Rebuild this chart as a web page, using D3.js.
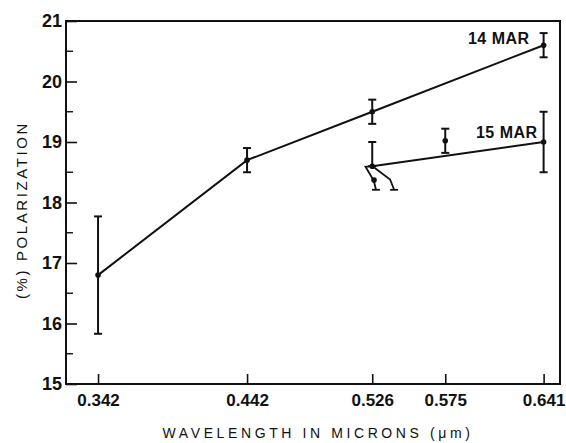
<!DOCTYPE html>
<html>
<head>
<meta charset="utf-8">
<script src="https://cdn.jsdelivr.net/npm/d3@7"></script>
<style>
  body { margin: 0; background: #fff; }
  text { font-family: "Liberation Sans", Arial, sans-serif; fill: #111; }
</style>
</head>
<body>
<script>
// values
var xTicks = [0.342, 0.442, 0.526, 0.575, 0.641];
var yTicks = [15, 16, 17, 18, 19, 20, 21];

// 14 MAR series
var mar14Wave = [0.342, 0.442, 0.526, 0.641];
var mar14Pol = [16.8, 18.7, 19.5, 20.6];
var mar14Err = [0.97, 0.2, 0.2, 0.2];

// 15 MAR series (line joins 0.526 and 0.641, 0.575 stands alone)
var mar15Wave = [0.526, 0.641];
var mar15Pol = [18.6, 19.0];
var mar15ErrUp = [0.4, 0.5];
var mar15ErrDown = [0, 0.5];
var mar15Extra = { wave: 0.575, pol: 19.02, err: 0.2 };

// little marks hanging under the 0.526 point of 15 MAR
var squiggleA = [[0.5262, 18.6], [0.5215, 18.59], [0.5271, 18.36], [0.5285, 18.21]];
var squiggleB = [[0.5262, 18.6], [0.538, 18.38], [0.5407, 18.21]];

var svgWidth = 566;
var svgHeight = 443;
var margin = { top: 21, right: 6, bottom: 59, left: 66 };

var width = svgWidth - margin.left - margin.right;
var height = svgHeight - margin.top - margin.bottom;

var svg = d3.select("body")
  .append("svg")
  .attr("width", svgWidth)
  .attr("height", svgHeight);

var chartGroup = svg.append("g")
  .attr("transform", `translate(${margin.left}, ${margin.top})`);

var xScale = d3.scaleLinear().domain([0.3205, 0.652]).range([0, width]);
var yScale = d3.scaleLinear().domain([15, 21]).range([height, 0]);

// frame
chartGroup.append("rect")
  .attr("width", width)
  .attr("height", height)
  .attr("fill", "none")
  .attr("stroke", "#111")
  .attr("stroke-width", 2);

// x axis, ticks pointing up into the plot
var xAxis = d3.axisBottom(xScale)
  .tickValues(xTicks)
  .tickSize(-10)
  .tickPadding(15)
  .tickFormat(d3.format(".3f"));

var xg = chartGroup.append("g")
  .attr("transform", `translate(0,${height})`)
  .call(xAxis);
xg.select(".domain").remove();
xg.selectAll("line").attr("stroke", "#111").attr("stroke-width", 1.6);
xg.selectAll("text")
  .attr("font-size", "17px")
  .attr("font-weight", "bold")
  .attr("dy", "0.4em");

// y axis, major and half-unit ticks pointing right
var yAxis = d3.axisLeft(yScale)
  .tickValues(yTicks)
  .tickSize(-11)
  .tickPadding(4)
  .tickFormat(d3.format("d"));

var yg = chartGroup.append("g").call(yAxis);
yg.select(".domain").remove();
yg.selectAll("line").attr("stroke", "#111").attr("stroke-width", 1.6);
yg.selectAll("text")
  .attr("font-size", "18px")
  .attr("font-weight", "bold");

var minor = d3.range(15.5, 21, 1);
chartGroup.selectAll(".minor")
  .data(minor)
  .enter()
  .append("line")
  .attr("class", "minor")
  .attr("x1", 0)
  .attr("x2", 7)
  .attr("y1", function (d) { return yScale(d); })
  .attr("y2", function (d) { return yScale(d); })
  .attr("stroke", "#111")
  .attr("stroke-width", 1.4);

var line = d3.line()
  .x(function (d) { return xScale(d[0]); })
  .y(function (d) { return yScale(d[1]); });

function drawErr(wave, lo, hi) {
  var x = xScale(wave);
  chartGroup.append("line")
    .attr("x1", x).attr("x2", x)
    .attr("y1", yScale(lo)).attr("y2", yScale(hi))
    .attr("stroke", "#111").attr("stroke-width", 2);
  [lo, hi].forEach(function (v) {
    chartGroup.append("line")
      .attr("x1", x - 4).attr("x2", x + 4)
      .attr("y1", yScale(v)).attr("y2", yScale(v))
      .attr("stroke", "#111").attr("stroke-width", 2);
  });
}

function drawDot(wave, pol) {
  chartGroup.append("circle")
    .attr("cx", xScale(wave))
    .attr("cy", yScale(pol))
    .attr("r", 2.8)
    .attr("fill", "#111");
}

// 14 MAR
var m14 = mar14Wave.map(function (w, i) { return [w, mar14Pol[i]]; });
chartGroup.append("path")
  .attr("d", line(m14))
  .attr("fill", "none")
  .attr("stroke", "#111")
  .attr("stroke-width", 2);
mar14Wave.forEach(function (w, i) {
  drawErr(w, mar14Pol[i] - mar14Err[i], mar14Pol[i] + mar14Err[i]);
  drawDot(w, mar14Pol[i]);
});

// 15 MAR
var m15 = mar15Wave.map(function (w, i) { return [w, mar15Pol[i]]; });
chartGroup.append("path")
  .attr("d", line(m15))
  .attr("fill", "none")
  .attr("stroke", "#111")
  .attr("stroke-width", 2);
mar15Wave.forEach(function (w, i) {
  drawErr(w, mar15Pol[i] - mar15ErrDown[i], mar15Pol[i] + mar15ErrUp[i]);
  drawDot(w, mar15Pol[i]);
});
drawErr(mar15Extra.wave, mar15Extra.pol - mar15Extra.err, mar15Extra.pol + mar15Extra.err);
drawDot(mar15Extra.wave, mar15Extra.pol);

[squiggleA, squiggleB].forEach(function (s) {
  chartGroup.append("path")
    .attr("d", line(s))
    .attr("fill", "none")
    .attr("stroke", "#111")
    .attr("stroke-width", 1.8);
  var end = s[s.length - 1];
  chartGroup.append("line")
    .attr("x1", xScale(end[0]) - 4).attr("x2", xScale(end[0]) + 4)
    .attr("y1", yScale(end[1])).attr("y2", yScale(end[1]))
    .attr("stroke", "#111").attr("stroke-width", 1.8);
});
drawDot(0.5272, 18.37);

// series labels
chartGroup.append("text")
  .attr("x", xScale(0.641) - 14)
  .attr("y", yScale(20.6) - 1)
  .attr("text-anchor", "end")
  .attr("font-size", "16px")
  .attr("font-weight", "bold")
  .attr("letter-spacing", "0.5px")
  .text("14 MAR");

chartGroup.append("text")
  .attr("x", xScale(0.641) - 6)
  .attr("y", yScale(19.07))
  .attr("text-anchor", "end")
  .attr("font-size", "16px")
  .attr("font-weight", "bold")
  .attr("letter-spacing", "0.5px")
  .text("15 MAR");

// axis titles
svg.append("text")
  .attr("x", 318)
  .attr("y", 438)
  .attr("text-anchor", "middle")
  .attr("font-size", "14px")
  .attr("letter-spacing", "3.6px")
  .text("WAVELENGTH  IN  MICRONS (μm)");

svg.append("text")
  .attr("transform", "translate(27,210)rotate(-90)")
  .attr("text-anchor", "middle")
  .attr("font-size", "15px")
  .attr("letter-spacing", "2.6px")
  .text("(%) POLARIZATION");
</script>
</body>
</html>
